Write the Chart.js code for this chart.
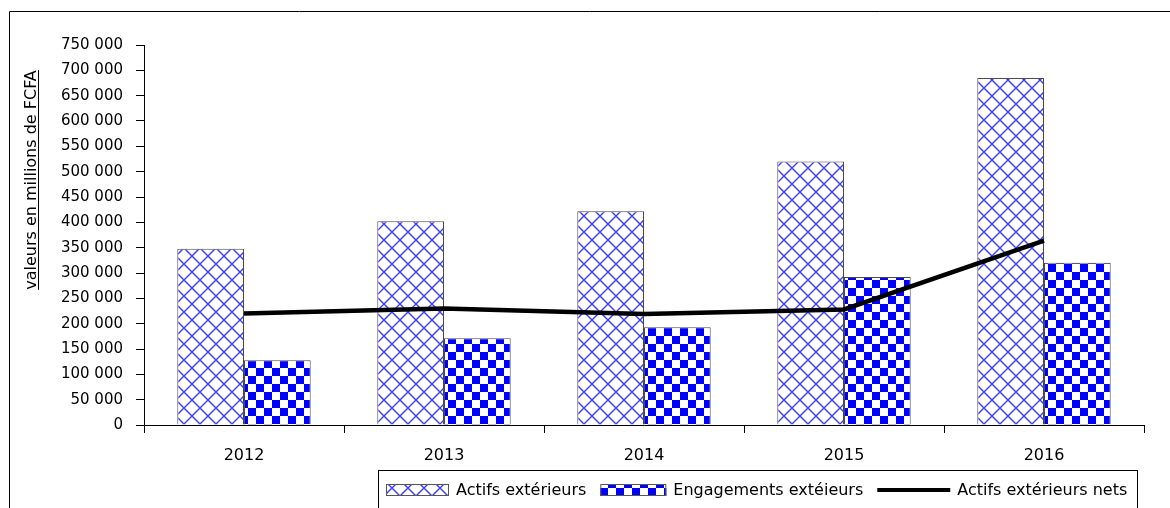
<!DOCTYPE html>
<html>
<head>
<meta charset="utf-8">
<script src="https://cdn.jsdelivr.net/npm/chart.js@4.4.1/dist/chart.umd.min.js"></script>
<style>
  html, body { margin: 0; padding: 0; background: #fff; overflow: hidden; }
  #wrap { position: relative; width: 1170px; height: 508px; }
</style>
</head>
<body>
<div id="wrap"><canvas id="chart" width="1170" height="508"></canvas></div>
<script>
// Années
const years = ['2012', '2013', '2014', '2015', '2016'];
// Actifs extérieurs (millions de FCFA)
const actifs = [348000, 402000, 422000, 520000, 685000];
// Engagements extérieurs (millions de FCFA)
const engagements = [128000, 171000, 193000, 292000, 320000];
// Actifs extérieurs nets (millions de FCFA)
const actifsNets = [220000, 230000, 219000, 228000, 364000];
// Échelle verticale
const yMin = 0;
const yMax = 750000;
const yStep = 50000;
// Libellés
const seriesLabels = ['Actifs extérieurs', 'Engagements extéieurs', 'Actifs extérieurs nets'];
const yTitle = 'valeurs en millions de FCFA';

const FONT = "'DejaVu Sans', sans-serif";
const canvas = document.getElementById('chart');
const ctx = canvas.getContext('2d');

// Motif treillis bleu (losanges)
function latticePattern() {
  const t = document.createElement('canvas');
  t.width = 16; t.height = 16;
  const g = t.getContext('2d');
  g.fillStyle = '#fff';
  g.fillRect(0, 0, 16, 16);
  g.strokeStyle = '#3c3cff';
  g.lineWidth = 1.4;
  g.beginPath();
  g.moveTo(0, 0); g.lineTo(16, 16);
  g.moveTo(16, 0); g.lineTo(0, 16);
  g.stroke();
  return ctx.createPattern(t, 'repeat');
}

// Motif damier bleu
function checkerPattern() {
  const t = document.createElement('canvas');
  t.width = 16; t.height = 16;
  const g = t.getContext('2d');
  g.fillStyle = '#fff';
  g.fillRect(0, 0, 16, 16);
  g.fillStyle = '#0000ff';
  g.fillRect(0, 0, 8, 8);
  g.fillRect(8, 8, 8, 8);
  return ctx.createPattern(t, 'repeat');
}

const lattice = latticePattern();
const checker = checkerPattern();

function fmt(v) {
  return String(v).replace(/\B(?=(\d{3})+(?!\d))/g, ' ');
}

// Cadre, titre de l'axe vertical et légende
const decorations = {
  id: 'decorations',
  beforeDraw(chart) {
    const c = chart.ctx;
    c.save();
    c.fillStyle = '#fff';
    c.fillRect(0, 0, chart.width, chart.height);
    c.restore();
  },
  afterDraw(chart) {
    const c = chart.ctx;
    c.save();
    // cadre extérieur
    c.strokeStyle = '#000';
    c.lineWidth = 1;
    c.beginPath();
    c.moveTo(9.5, 508);
    c.lineTo(9.5, 11.5);
    c.lineTo(1170, 11.5);
    c.stroke();

    // titre vertical souligné
    c.translate(36, 180);
    c.rotate(-Math.PI / 2);
    c.font = '16px ' + FONT;
    c.fillStyle = '#000';
    c.textAlign = 'center';
    c.textBaseline = 'alphabetic';
    c.fillText(yTitle, 0, 0);
    const w = c.measureText(yTitle).width;
    c.fillRect(-w / 2, 2, w, 1);
    c.setTransform(1, 0, 0, 1, 0, 0);

    // légende
    c.strokeStyle = '#000';
    c.lineWidth = 1;
    c.strokeRect(378.5, 470.5, 759, 60);
    c.font = '16px ' + FONT;
    c.textAlign = 'left';
    c.textBaseline = 'middle';
    const cy = 490;
    let x = 386;
    const items = [
      { kind: 'box', fill: lattice, w: 63 },
      { kind: 'box', fill: checker, w: 66 },
      { kind: 'line', w: 73 }
    ];
    items.forEach((it, i) => {
      if (it.kind === 'box') {
        c.fillStyle = it.fill;
        c.fillRect(x, cy - 6, it.w, 12);
        c.strokeStyle = '#555';
        c.strokeRect(x + 0.5, cy - 5.5, it.w - 1, 11);
      } else {
        c.fillStyle = '#000';
        c.fillRect(x, cy - 2, it.w, 4);
      }
      x += it.w + 7;
      c.fillStyle = '#000';
      c.fillText(seriesLabels[i], x, cy + 1);
      x += c.measureText(seriesLabels[i]).width + 14;
    });
    c.restore();
  }
};

new Chart(canvas, {
  type: 'bar',
  data: {
    labels: years,
    datasets: [
      {
        type: 'line',
        label: seriesLabels[2],
        data: actifsNets,
        borderColor: '#000',
        borderWidth: 4.5,
        pointRadius: 0,
        tension: 0,
        fill: false,
        order: 0
      },
      {
        label: seriesLabels[0],
        data: actifs,
        backgroundColor: lattice,
        borderColor: '#4a4a4a',
        borderWidth: 1,
        order: 1
      },
      {
        label: seriesLabels[1],
        data: engagements,
        backgroundColor: checker,
        borderColor: '#4a4a4a',
        borderWidth: 1,
        order: 1
      }
    ]
  },
  options: {
    responsive: false,
    animation: false,
    devicePixelRatio: 1,
    layout: { padding: { left: 0, right: 26, top: 45, bottom: 0 } },
    datasets: {
      bar: { categoryPercentage: 0.667, barPercentage: 1.0 }
    },
    plugins: {
      legend: { display: false },
      tooltip: { enabled: false },
      title: { display: false }
    },
    scales: {
      x: {
        afterFit(scale) { scale.height = 83; },
        grid: {
          offset: true,
          drawOnChartArea: false,
          drawTicks: true,
          tickLength: 8,
          color: '#000',
          lineWidth: 1
        },
        border: { display: true, color: '#000', width: 1 },
        ticks: {
          color: '#000',
          font: { family: FONT, size: 16 },
          padding: 13,
          maxRotation: 0
        }
      },
      y: {
        min: yMin,
        max: yMax,
        afterFit(scale) { scale.width = 144; },
        grid: {
          drawOnChartArea: false,
          drawTicks: true,
          tickLength: 8,
          color: '#000',
          lineWidth: 1
        },
        border: { display: true, color: '#000', width: 1 },
        ticks: {
          stepSize: yStep,
          color: '#000',
          font: { family: FONT, size: 15 },
          padding: 13,
          callback: (v) => fmt(v)
        }
      }
    }
  },
  plugins: [decorations]
});
</script>
</body>
</html>
